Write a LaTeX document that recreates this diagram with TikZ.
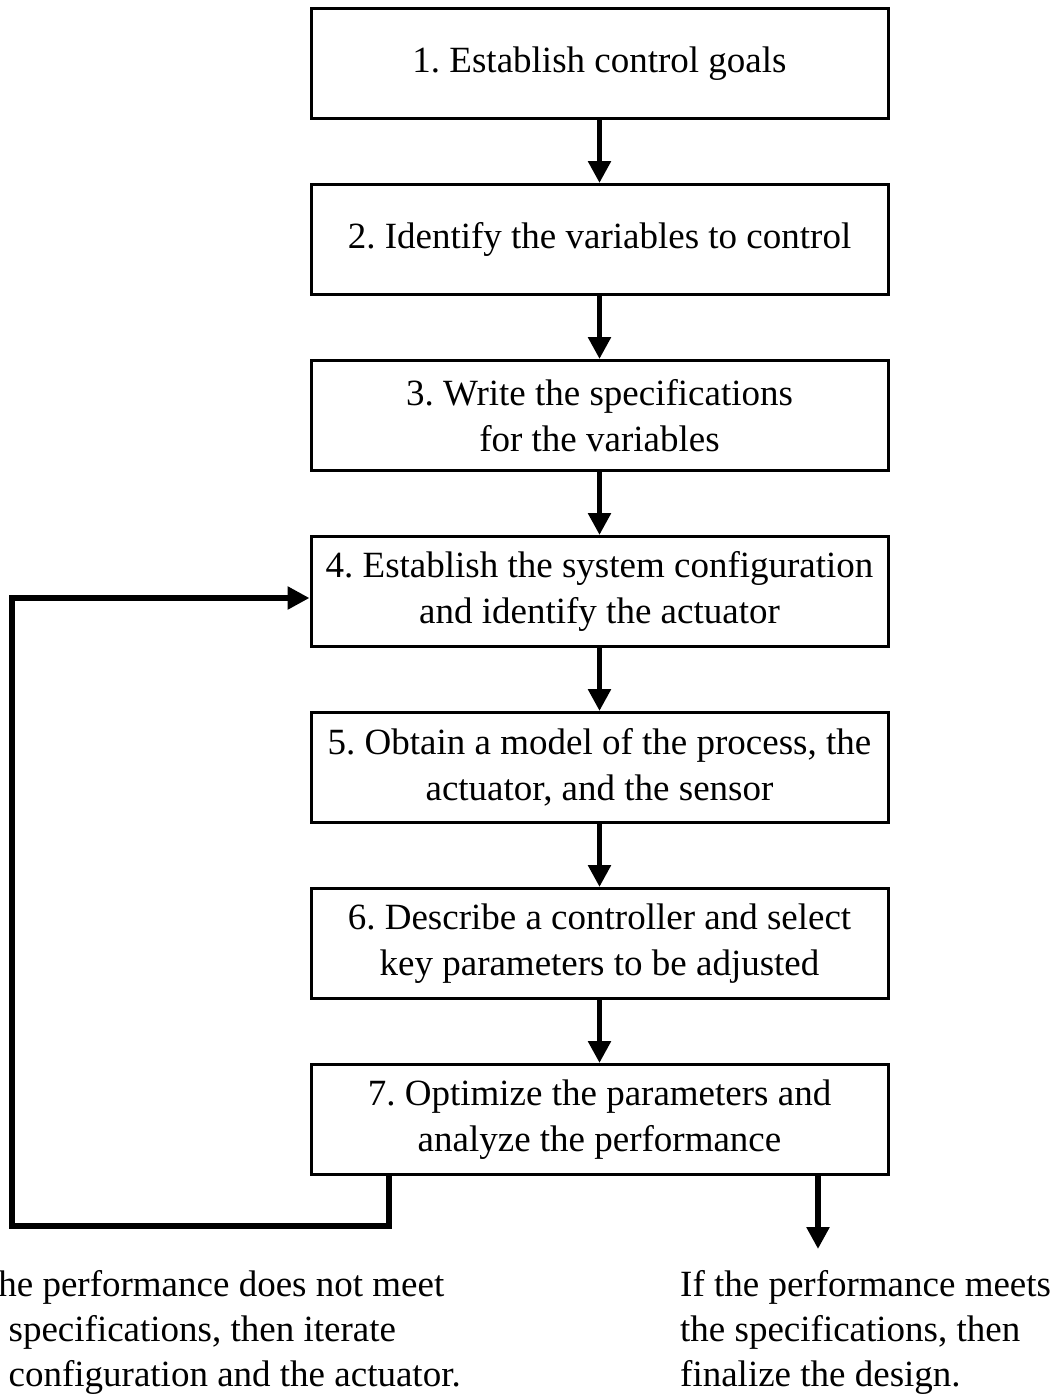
\documentclass[tikz,border=0pt]{standalone}
\usepackage{fontspec}
\setmainfont{Liberation Serif}
\usetikzlibrary{arrows.meta}
\frenchspacing
\begin{document}
\begin{tikzpicture}[x=1pt,y=-1pt,
  stepbox/.style={draw, line width=3pt, minimum width=577pt, minimum height=110pt,
    inner sep=0pt, align=center, font=\fontsize{37}{46}\selectfont},
  flow/.style={line width=5.5pt, -{Triangle[length=22pt,width=22pt]}},
  note/.style={inner sep=0pt, align=left, anchor=base west, font=\fontsize{37}{45}\selectfont}]
\useasboundingbox (0,0) rectangle (1058,1395);
\node[stepbox] (b1) at (599.5,63.5) {1. Establish control goals};
\node[stepbox] (b2) at (599.5,239.5) {2. Identify the variables to control};
\node[stepbox] (b3) at (599.5,415.5) {3. Write the specifications\\for the variables};
\node[stepbox] (b4) at (599.5,591.5) {4. Establish the system configuration\\and identify the actuator};
\node[stepbox] (b5) at (599.5,767.5) {5. Obtain a model of the process, the\\actuator, and the sensor};
\node[stepbox] (b6) at (599.5,943.5) {6. Describe a controller and select\\key parameters to be adjusted};
\node[stepbox] (b7) at (599.5,1119.5) {7. Optimize the parameters and\\analyze the performance};
\draw[flow] (b1) -- (b2);
\draw[flow] (b2) -- (b3);
\draw[flow] (b3) -- (b4);
\draw[flow] (b4) -- (b5);
\draw[flow] (b5) -- (b6);
\draw[flow] (b6) -- (b7);
\coordinate (fbA) at (389,1176);
\coordinate (fbB) at (12,1226);
\coordinate (fbC) at ([yshift=-6.5pt]b4.west);
\draw[flow, line width=6pt] (fbA) |- (fbB) |- (fbC);
\coordinate (outA) at (818,1176);
\coordinate (outB) at (818,1249);
\draw[flow, line width=6pt] (outA) -- (outB);
\node[note] (failtext) at (-46,1386) {If the performance does not meet\\the specifications, then iterate\\the configuration and the actuator.};
\node[note] (oktext) at (680,1386) {If the performance meets\\the specifications, then\\finalize the design.};
\end{tikzpicture}
\end{document}
